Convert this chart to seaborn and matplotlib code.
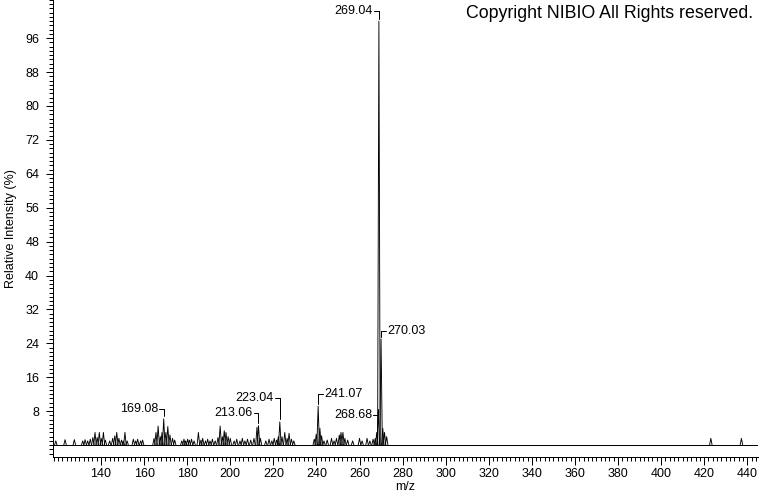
import pandas as pd
import matplotlib
matplotlib.use("Agg")
import matplotlib.pyplot as plt
from matplotlib.ticker import MultipleLocator
import seaborn as sns

# Peak list (m/z, relative intensity %)
peak_mz = [
    119.0, 123.3, 127.6, 131.5, 132.6, 133.8, 135.0, 136.2, 137.2, 138.2,
    139.2, 140.1, 141.1, 142.0, 144.0, 145.4, 146.4, 147.3, 148.3, 149.5,
    150.3, 151.1, 152.1, 155.0, 156.1, 157.0, 158.4, 159.3, 164.6, 165.5,
    166.5, 167.5, 168.3, 169.1, 170.1, 171.0, 172.0, 173.2, 174.2, 177.5,
    178.5, 179.3, 180.2, 181.0, 182.0, 183.2, 185.2, 186.4, 187.2, 188.5,
    189.5, 190.6, 191.7, 193.0, 194.3, 195.3, 196.3, 197.2, 198.0, 199.0,
    200.0, 201.8, 203.0, 204.5, 205.6, 206.8, 208.0, 209.5, 211.0, 212.4,
    213.1, 214.0, 216.5, 218.0, 219.3, 220.4, 221.5, 222.3, 223.0, 224.0,
    225.3, 226.4, 227.3, 228.4, 229.5, 239.0, 239.9, 240.8, 241.6, 242.4,
    243.5, 245.0, 247.0, 248.2, 249.3, 250.6, 251.4, 252.3, 253.2, 254.5,
    256.8, 260.0, 261.2, 263.5, 264.8, 266.3, 267.3, 268.0, 268.7, 269.0,
    270.0, 270.8, 271.6, 272.6, 423.1, 437.3,
]
peak_int = [
    1.0, 1.3, 1.3, 1.0, 1.3, 1.0, 1.4, 1.8, 3.0, 1.8,
    3.0, 1.6, 3.0, 1.2, 1.0, 1.6, 2.2, 3.0, 1.6, 1.2,
    1.0, 3.0, 1.0, 1.4, 1.0, 1.4, 1.0, 1.2, 1.6, 3.0,
    4.5, 2.0, 3.0, 6.2, 3.0, 4.4, 2.4, 1.6, 1.2, 1.0,
    1.4, 1.0, 1.4, 1.2, 1.4, 1.0, 3.0, 1.2, 1.6, 1.0,
    1.4, 1.0, 1.4, 1.0, 1.8, 4.5, 2.0, 3.4, 3.0, 2.0,
    1.6, 1.0, 1.4, 1.0, 1.6, 1.0, 1.4, 1.2, 1.6, 4.2,
    4.6, 1.6, 1.0, 1.4, 1.0, 1.6, 1.2, 2.0, 5.5, 2.0,
    3.0, 1.6, 2.8, 1.4, 1.0, 1.4, 2.6, 9.2, 4.0, 2.2,
    1.0, 1.2, 1.6, 1.0, 1.6, 2.4, 3.0, 3.0, 1.6, 1.2,
    1.0, 1.6, 1.0, 1.6, 1.0, 1.4, 1.6, 3.0, 8.0, 100.0,
    25.0, 4.0, 3.0, 2.0, 1.6, 1.6,
]

# Annotated peaks
label_text = ["169.08", "213.06", "223.04", "241.07", "268.68", "269.04", "270.03"]
label_mz = [169.1, 213.1, 223.0, 240.8, 268.7, 269.0, 270.0]
label_peak = [6.2, 4.6, 5.5, 9.2, 8.0, 100.0, 25.0]

# label placement (height of the leader in %, side of the text)
label_level = [8.5, 7.5, 11.0, 12.0, 7.0, 102.3, 27.0]
label_side = ["left", "left", "left", "right", "left", "left", "right"]

# Build profile: each peak drawn as a narrow triangle
half_width = 0.6
rows = []
for i, (m, h) in enumerate(zip(peak_mz, peak_int)):
    rows.append((i, m - half_width, 0.0))
    rows.append((i, m, h))
    rows.append((i, m + half_width, 0.0))
df = pd.DataFrame(rows, columns=["peak", "mz", "intensity"])

sns.set_theme(style="white")
plt.rcParams["font.family"] = ["Liberation Sans", "DejaVu Sans"]
plt.rcParams["text.color"] = "black"
plt.rcParams["axes.labelcolor"] = "black"
plt.rcParams["xtick.color"] = "black"
plt.rcParams["ytick.color"] = "black"

LW = 0.72

fig = plt.figure(figsize=(7.6, 4.92), dpi=100)
ax = fig.add_axes([53 / 760, 1 - 457 / 492, 705 / 760, 457 / 492])

sns.lineplot(
    data=df, x="mz", y="intensity", units="peak", estimator=None,
    color="black", linewidth=0.65, legend=False, ax=ax
)
ax.axhline(0, color="black", linewidth=LW)

# peak labels with bracket-style leaders
for txt, m, top, lvl, side in zip(label_text, label_mz, label_peak, label_level, label_side):
    sign = -1 if side == "left" else 1
    ax.plot([m + sign * 2.3, m], [lvl, lvl], color="black", lw=LW)
    ax.plot([m, m], [lvl, top + 0.6], color="black", lw=LW)
    ax.text(m + sign * 2.7, lvl, txt, ha="right" if side == "left" else "left",
            va="center", fontsize=9)

ax.set_xlim(117.7, 445)
ax.set_ylim(-2.8, 105)
ax.set_xticks(range(140, 441, 20))
ax.set_yticks(range(8, 97, 8))
ax.xaxis.set_minor_locator(MultipleLocator(2))
ax.yaxis.set_minor_locator(MultipleLocator(1))
ax.tick_params(axis="both", which="both", direction="out", bottom=True, left=True,
               colors="black", labelsize=9)
ax.tick_params(axis="x", which="major", length=6, width=LW, pad=2)
ax.tick_params(axis="x", which="minor", length=3, width=LW)
ax.tick_params(axis="y", which="major", length=5, width=LW, pad=5)
ax.tick_params(axis="y", which="minor", length=3, width=LW)

for s in ["top", "right"]:
    ax.spines[s].set_visible(False)
for s in ["left", "bottom"]:
    ax.spines[s].set_color("black")
    ax.spines[s].set_linewidth(LW)

ax.set_xlabel("m/z", fontsize=9, labelpad=1)
ax.set_ylabel("Relative Intensity (%)", fontsize=9, labelpad=6)

fig.text(753 / 760, 1 - 13 / 492, "Copyright NIBIO All Rights reserved.",
         ha="right", va="center", fontsize=12.8)

fig.savefig("out.png", dpi=100)
